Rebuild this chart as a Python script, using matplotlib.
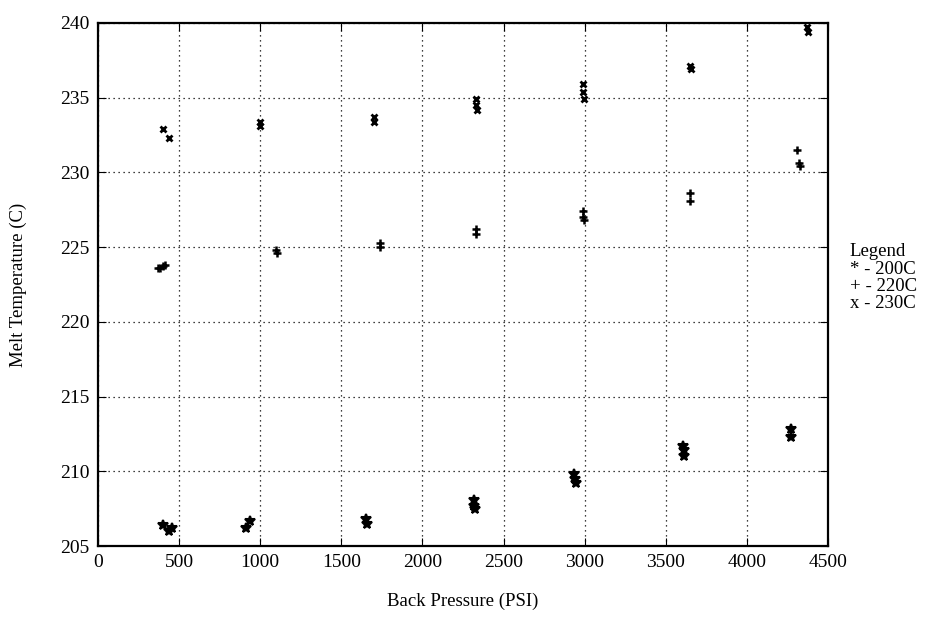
import matplotlib
matplotlib.use("Agg")
import matplotlib.pyplot as plt

plt.rcParams['font.family'] = ['Liberation Serif', 'DejaVu Serif']

# data
x200 = [400, 440, 455, 910, 935, 1655, 1660, 2320, 2320, 2325, 2935, 2940, 2945, 3605, 3610, 3610, 4270, 4275]
y200 = [206.4, 206.0, 206.2, 206.2, 206.7, 206.8, 206.5, 208.1, 207.7, 207.5, 209.8, 209.5, 209.2, 211.7, 211.4, 211.0, 212.8, 212.3]

x220 = [370, 385, 400, 415, 1100, 1105, 1740, 1740, 2330, 2330, 2990, 2990, 2995, 3650, 3650, 4310, 4320, 4325]
y220 = [223.6, 223.6, 223.7, 223.8, 224.8, 224.6, 225.3, 225.0, 226.2, 225.9, 227.4, 227.0, 226.8, 228.6, 228.1, 231.5, 230.6, 230.4]

x230 = [400, 435, 1000, 1000, 1700, 1700, 2330, 2330, 2335, 2990, 2990, 2995, 3650, 3655, 4370, 4375]
y230 = [232.9, 232.3, 233.4, 233.1, 233.7, 233.4, 234.9, 234.5, 234.2, 235.9, 235.4, 234.9, 237.1, 236.9, 239.7, 239.4]

xticks = [0, 500, 1000, 1500, 2000, 2500, 3000, 3500, 4000, 4500]
yticks = [205, 210, 215, 220, 225, 230, 235, 240]
legend_lines = ['Legend', '* - 200C', '+ - 220C', 'x - 230C']

fig = plt.figure(figsize=(9.27, 6.18), dpi=100)
ax = fig.add_axes([0.1057, 0.1165, 0.7875, 0.8465])

ax.plot(x200, y200, '*', color='black', markersize=7, mew=1.5, linestyle='none')
ax.plot(x220, y220, '+', color='black', markersize=6, mew=1.8, linestyle='none')
ax.plot(x230, y230, 'x', color='black', markersize=5, mew=2.0, linestyle='none')

ax.set_xlim(0, 4500)
ax.set_ylim(205, 240)
ax.set_xticks(xticks)
ax.set_yticks(yticks)
ax.grid(True, linestyle=(0, (1, 3)), color='black', linewidth=0.9)
ax.tick_params(direction='in', top=True, right=True, length=6, labelsize=14, pad=6)
for s in ax.spines.values():
    s.set_linewidth(1.6)

ax.set_xlabel('Back Pressure (PSI)', fontsize=13.5)
ax.set_ylabel('Melt Temperature (C)', fontsize=13.5)
ax.xaxis.set_label_coords(0.5, -0.09)
ax.yaxis.set_label_coords(-0.097, 0.5)

ys = [0.563, 0.529, 0.496, 0.463]
for t, y in zip(legend_lines, ys):
    ax.text(1.03, y, t, transform=ax.transAxes, fontsize=13.5, va='center', ha='left')

fig.savefig('out.png', dpi=100)
